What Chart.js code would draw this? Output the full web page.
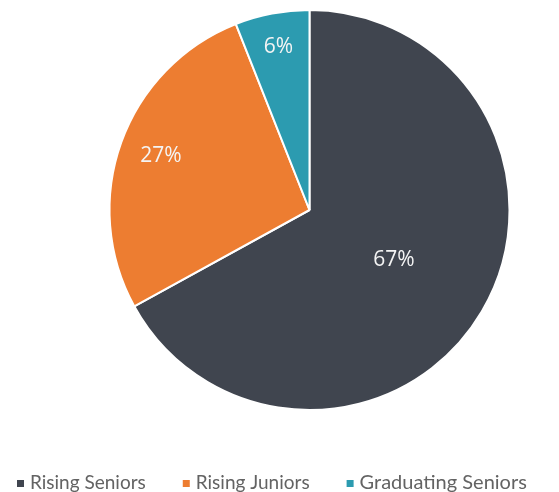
<!DOCTYPE html>
<html lang="en">
<head>
<meta charset="UTF-8">
<title>Class breakdown</title>
<script src="https://cdn.jsdelivr.net/npm/chart.js"></script>
<style>
    html, body { margin: 0; padding: 0; background: #fff; overflow: hidden; }
    #wrap { width: 559px; height: 492px; position: relative; }
</style>
</head>
<body>
<div id="wrap"><canvas id="pie"></canvas></div>
<script>
    // Share of respondents by class
    const categories = ['Rising Seniors', 'Rising Juniors', 'Graduating Seniors'];
    const shares = [67, 27, 6];
    const sliceColors = ['#40454f', '#ed7d31', '#2c9bb0'];

    // how far out (fraction of radius) each percentage label sits
    const labelRadius = [0.49, 0.79, 0.83];

    // percentage labels inside the slices
    const sliceLabels = {
        id: 'sliceLabels',
        afterDatasetsDraw(chart) {
            const ctx = chart.ctx;
            const meta = chart.getDatasetMeta(0);
            ctx.save();
            ctx.fillStyle = '#f4f4f4';
            ctx.font = '21px "Open Sans", sans-serif';
            ctx.textAlign = 'center';
            ctx.textBaseline = 'middle';
            meta.data.forEach((arc, i) => {
                const mid = (arc.startAngle + arc.endAngle) / 2;
                const r = arc.outerRadius * labelRadius[i];
                ctx.fillText(shares[i] + '%', arc.x + Math.cos(mid) * r, arc.y + Math.sin(mid) * r);
            });
            ctx.restore();
        }
    };

    // legend row along the bottom (runs off the right edge)
    const bottomLegend = {
        id: 'bottomLegend',
        afterDraw(chart) {
            const ctx = chart.ctx;
            ctx.save();
            ctx.textBaseline = 'middle';
            let x = 17;
            const y = 483;
            categories.forEach((name, i) => {
                ctx.fillStyle = sliceColors[i];
                ctx.fillRect(x, y - 3, 7, 7);
                ctx.fillStyle = '#636363';
                ctx.font = '19px "Lato", sans-serif';
                if (i === 2) ctx.font = '20px "Lato", sans-serif';
                ctx.fillText(name, x + 13, y);
                x += 13 + ctx.measureText(name).width + 37;
            });
            ctx.restore();
        }
    };

    new Chart(document.getElementById('pie'), {
        type: 'pie',
        data: {
            labels: categories,
            datasets: [{
                data: shares,
                backgroundColor: sliceColors,
                borderColor: '#ffffff',
                borderWidth: 2
            }]
        },
        options: {
            responsive: true,
            maintainAspectRatio: false,
            animation: false,
            layout: { padding: { left: 108, right: 48, top: 9, bottom: 81 } },
            plugins: {
                legend: { display: false },
                tooltip: { enabled: false }
            }
        },
        plugins: [sliceLabels, bottomLegend]
    });
</script>
</body>
</html>
